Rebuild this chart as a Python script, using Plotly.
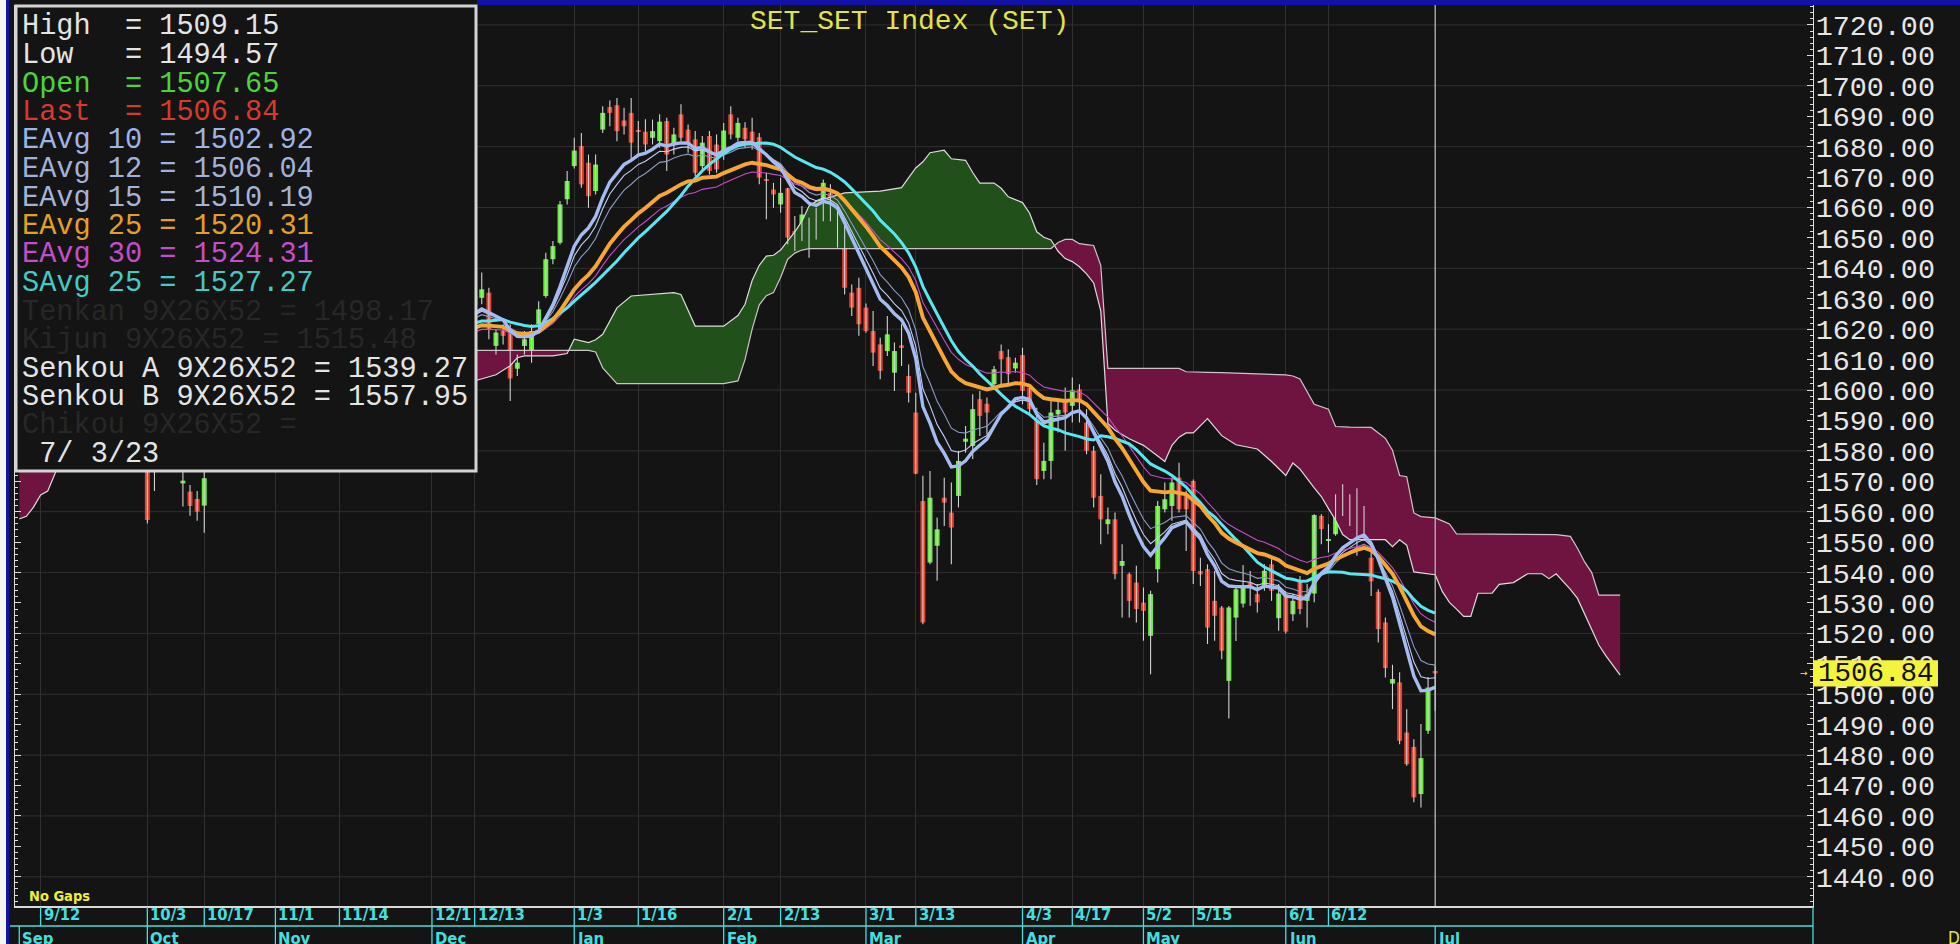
import numpy as np
import pandas as pd
import plotly.graph_objects as go

# ---------------- data ----------------
holidays = ["2022-10-13", "2022-10-14", "2022-10-24", "2022-12-05", "2022-12-12",
            "2023-01-02", "2023-03-06", "2023-04-06", "2023-04-13", "2023-04-14",
            "2023-05-01", "2023-05-04", "2023-05-05", "2023-06-05"]
first_day, last_day = "2022-09-07", "2023-07-03"

open_ = [1628, 1631, 1638, 1645, 1647, 1638, 1637, 1633, 1624, 1629,
         1633, 1622, 1616, 1605, 1598, 1600, 1595, 1598, 1586, 1575,
         1590, 1596, 1588, 1569.3, 1566.6, 1564.2, 1562.0, 1575, 1588, 1590,
         1582, 1590, 1596, 1603, 1600, 1608, 1611, 1615, 1605, 1601,
         1611, 1617, 1620, 1612, 1615, 1626, 1623, 1631, 1626, 1622,
         1617, 1612, 1619, 1626, 1622, 1616, 1612, 1624, 1637, 1630,
         1625, 1618, 1621, 1624, 1628, 1630.3, 1632.0, 1614.5, 1619.6, 1619.9,
         1607, 1614.5, 1611.2, 1621.6, 1630.9, 1643.0, 1648.4, 1662.7, 1673.6, 1680.2,
         1674.7, 1665.4, 1685.6, 1693.0, 1693.6, 1688.6, 1691.1, 1685.5, 1684.9, 1682.9,
         1681.8, 1688.4, 1680.7, 1690.6, 1685.6, 1682.4, 1673.6, 1683.5, 1680.7, 1677.4,
         1690.6, 1682.9, 1686.2, 1684.9, 1683.1, 1669.2, 1665.9, 1661.0, 1666.3, 1652.3,
         1653.6, 1654.4, 1653.9, 1658.3, 1664.8, 1657.7, 1651.4, 1632.0, 1633.6, 1627.1,
         1619.4, 1615.0, 1612.8, 1605.7, 1614.7, 1604.6, 1592.6, 1563.5, 1543.3, 1548.8,
         1564.6, 1559.7, 1565.2, 1583.0, 1581.6, 1597.0, 1595.5, 1601.9, 1612.8, 1610.8,
         1607.1, 1611.5, 1600.8, 1590.4, 1573.4, 1576.7, 1592.0, 1596.9, 1594.8, 1600.2,
         1589.3, 1580.0, 1565.2, 1555.9, 1557.5, 1542.2, 1539.5, 1536.7, 1530.1, 1519.2,
         1541.1, 1560.8, 1561.9, 1571.2, 1565.2, 1570.1, 1540.5, 1541.1, 1530.7, 1528.5,
         1504.4, 1525.2, 1529.8, 1536.7, 1532.9, 1535.1, 1542.7, 1525.0, 1532.9, 1526.3,
         1537.1, 1530.7, 1533.1, 1558.6, 1550.4, 1552.6, 1565.7, 1560.8, 1562.5, 1554.3,
         1544.9, 1533.7, 1523.6, 1503.5, 1503.9, 1487.4, 1482.7, 1467.2, 1488.0, 1507.65]

high = [1634, 1640, 1646, 1652, 1651, 1643, 1642, 1637, 1630, 1638,
        1637, 1628, 1622, 1610, 1608, 1605, 1603, 1602, 1588, 1592,
        1599, 1598, 1590, 1576, 1568.8, 1566.8, 1576, 1590, 1596, 1594,
        1590, 1598, 1605, 1608, 1610, 1614, 1618, 1620, 1610, 1612,
        1619, 1624, 1626, 1618, 1628, 1632, 1633, 1636, 1630, 1627,
        1620, 1620, 1628, 1631, 1628, 1620, 1625, 1638, 1642, 1634,
        1630, 1624, 1628, 1632, 1636, 1638.6, 1633.6, 1619.9, 1621.6, 1621.6,
        1611.7, 1619.4, 1621.6, 1629.2, 1645.1, 1649.0, 1662.1, 1672.0, 1682.9, 1684.5,
        1677.4, 1677.4, 1693.3, 1695.2, 1696.0, 1692.8, 1696.0, 1688.4, 1689.0, 1688.9,
        1690.6, 1689.5, 1686.2, 1693.9, 1687.3, 1685.1, 1683.5, 1685.1, 1684.0, 1687.8,
        1693.3, 1689.5, 1688.0, 1689.5, 1684.5, 1671.4, 1668.1, 1669.8, 1666.5, 1657.2,
        1660.5, 1656.6, 1659.9, 1669.2, 1667.6, 1658.8, 1654.4, 1634.7, 1636.9, 1628.4,
        1626.0, 1617.2, 1624.3, 1615.6, 1621.6, 1608.4, 1599.1, 1571.8, 1573.4, 1558.1,
        1571.2, 1569.6, 1580.0, 1588.2, 1598.6, 1599.7, 1597.5, 1607.9, 1615.0, 1613.4,
        1610.6, 1613.9, 1601.9, 1594.2, 1582.7, 1596.4, 1597.0, 1600.8, 1604.1, 1601.9,
        1593.7, 1581.6, 1572.3, 1561.4, 1559.7, 1549.3, 1540.0, 1542.2, 1535.1, 1534.0,
        1563.5, 1569.6, 1571.2, 1576.1, 1566.9, 1570.6, 1544.9, 1542.7, 1540.5, 1529.0,
        1529.0, 1535.6, 1542.5, 1540.5, 1536.2, 1542.7, 1544.4, 1536.2, 1533.8, 1532.9,
        1538.9, 1536.2, 1559.2, 1559.2, 1555.9, 1565.7, 1569.0, 1565.7, 1567.7, 1561.9,
        1550.4, 1534.5, 1525.2, 1509.7, 1507.2, 1495.1, 1485.2, 1490.2, 1505.7, 1509.15]

low = [1622, 1628, 1635, 1641, 1640, 1632, 1630, 1624, 1618, 1625,
       1622, 1612, 1606, 1592, 1594, 1588, 1590, 1584, 1556.1, 1566.8,
       1584, 1582, 1576, 1561.7, 1558.7, 1557.0, 1553.1, 1574, 1584, 1580,
       1576, 1585, 1592, 1596, 1597, 1602, 1606, 1604, 1596, 1598,
       1608, 1612, 1612, 1604, 1613, 1620, 1620, 1624, 1618, 1615,
       1608, 1606, 1615, 1620, 1616, 1605, 1609, 1620, 1628, 1620,
       1616, 1612, 1617, 1620, 1625, 1628.2, 1616.7, 1611.7, 1615.0, 1596.4,
       1604.6, 1611.7, 1609.0, 1619.4, 1630.3, 1641.3, 1647.8, 1661.0, 1672.8, 1666.5,
       1659.9, 1664.3, 1684.5, 1686.7, 1681.8, 1684.0, 1675.2, 1677.4, 1678.5, 1680.7,
       1679.6, 1672.0, 1677.4, 1681.8, 1678.0, 1670.3, 1671.9, 1670.8, 1671.4, 1675.7,
       1682.4, 1681.8, 1679.6, 1679.0, 1667.6, 1656.1, 1659.9, 1658.3, 1647.9, 1645.7,
       1649.0, 1643.5, 1649.5, 1655.5, 1655.5, 1646.8, 1631.4, 1624.3, 1617.8, 1618.8,
       1607.9, 1603.5, 1611.2, 1599.7, 1607.9, 1595.9, 1572.3, 1523.0, 1542.7, 1537.3,
       1555.3, 1542.7, 1561.4, 1579.4, 1577.3, 1584.9, 1585.4, 1600.2, 1601.9, 1601.9,
       1605.7, 1595.3, 1592.0, 1568.8, 1570.7, 1570.7, 1586.0, 1580.0, 1589.3, 1589.3,
       1578.9, 1561.4, 1549.3, 1552.6, 1537.8, 1525.2, 1525.2, 1523.6, 1517.6, 1506.6,
       1536.7, 1559.7, 1557.0, 1559.7, 1547.1, 1536.2, 1535.6, 1516.5, 1517.6, 1511.5,
       1492.0, 1517.5, 1528.5, 1529.1, 1526.9, 1534.0, 1530.7, 1520.9, 1520.0, 1524.1,
       1526.3, 1521.9, 1530.2, 1549.3, 1546.6, 1552.1, 1558.6, 1555.3, 1545.5, 1550.4,
       1532.3, 1517.0, 1505.5, 1495.1, 1483.6, 1476.5, 1464.5, 1462.8, 1486.9, 1494.57]

close = [1630, 1637, 1643, 1648, 1644, 1636, 1634, 1627, 1628, 1635,
         1625, 1615, 1612, 1596, 1604, 1592, 1600, 1589, 1557.3, 1590,
         1595, 1590, 1584, 1570.2, 1561.9, 1560.0, 1571.0, 1588, 1591, 1583,
         1586, 1595, 1602, 1600, 1607, 1610, 1615, 1607, 1600, 1609,
         1616, 1620, 1615, 1610, 1625, 1623, 1630, 1627, 1621, 1619,
         1612, 1617, 1625, 1623, 1620, 1610, 1622, 1635, 1632, 1624,
         1619, 1620, 1625, 1629, 1631, 1633.1, 1619.9, 1618.9, 1617.8, 1603.8,
         1609, 1616.7, 1619.4, 1626.5, 1643.0, 1647.3, 1661.0, 1668.7, 1678.7, 1667.6,
         1663.7, 1674.1, 1691.1, 1691.1, 1685.1, 1686.7, 1681.3, 1685.0, 1680.7, 1685.1,
         1688.2, 1677.4, 1684.0, 1682.9, 1680.7, 1671.4, 1681.3, 1672.0, 1672.5, 1685.3,
         1684.0, 1687.8, 1682.4, 1681.3, 1669.8, 1668.7, 1664.3, 1664.8, 1650.1, 1646.8,
         1657.7, 1651.4, 1657.4, 1668.1, 1658.8, 1652.3, 1633.6, 1627.1, 1621.6, 1619.4,
         1612.3, 1606.3, 1618.3, 1612.8, 1614.1, 1599.1, 1572.5, 1523.6, 1564.6, 1554.2,
         1563.0, 1554.8, 1576.7, 1584.0, 1593.7, 1591.5, 1592.6, 1606.8, 1610.1, 1605.2,
         1609.0, 1599.7, 1593.7, 1570.7, 1576.7, 1592.6, 1593.5, 1592.6, 1599.9, 1595.9,
         1580.0, 1564.6, 1557.5, 1557.5, 1539.5, 1543.8, 1530.7, 1528.0, 1527.4, 1532.9,
         1561.9, 1564.1, 1569.6, 1560.8, 1560.8, 1540.5, 1539.4, 1521.9, 1525.8, 1514.3,
         1528.5, 1534.5, 1535.6, 1535.1, 1530.2, 1540.6, 1534.0, 1533.1, 1520.6, 1530.7,
         1528.0, 1532.9, 1558.9, 1554.3, 1550.9, 1561.9, 1560.3, 1557.0, 1558.6, 1556.7,
         1537.1, 1521.4, 1508.6, 1505.0, 1484.7, 1477.0, 1466.1, 1479.0, 1502.2, 1506.84]

# Ichimoku cloud: bar number counted from the first bar (2022-09-07);
# numbers above 199 are the 26-bar forward projection.
cloud_session = [0, 1, 2, 3, 4, 5, 7, 13, 23, 33, 43, 53, 61, 64, 67, 69, 70, 71, 75, 77,
                 78, 80, 81, 82, 84, 86, 92, 93, 95, 99, 101, 102, 103, 104, 105, 106, 107, 108, 109, 110,
                 111, 112, 116, 121, 124, 125, 126, 127, 128, 130, 131, 133, 134, 135, 137, 138, 139, 141, 142, 143,
                 144, 145, 146, 147, 148, 149, 150, 151, 152, 153, 154, 156, 158, 160, 161, 162, 163, 164, 165, 167,
                 169, 171, 174, 176, 178, 179, 180, 182, 183, 184, 185, 186, 187, 190, 192, 193, 194, 195, 196, 197,
                 199, 200, 201, 202, 203, 204, 205, 207, 208, 210, 212, 214, 215, 216, 218, 219, 220, 221, 222, 223,
                 224, 225]
senkou_a = [1557.6, 1558.5, 1561.5, 1565.5, 1566.8, 1572.4, 1585, 1598, 1606, 1600, 1596, 1598, 1601, 1603, 1605, 1608, 1610.6, 1611.2, 1611.2, 1612.0,
            1616.7, 1615.6, 1616.5, 1618.3, 1627, 1630.9, 1632, 1631.4, 1621, 1621, 1624.5, 1628.2, 1636, 1641, 1644, 1644.3, 1646, 1649, 1652, 1655.5,
            1660.5, 1662, 1664.8, 1665.4, 1666.5, 1669.8, 1673, 1675, 1678, 1678.8, 1676, 1675.5, 1671.5, 1668, 1668, 1666.3, 1663.5, 1661.6, 1658.1, 1652,
            1650.2, 1649.3, 1645.6, 1643.2, 1642.2, 1640.5, 1638.2, 1635.2, 1626, 1589, 1586.8, 1584, 1581.8, 1578.3, 1576.5, 1581.8, 1584.5, 1585.9, 1585.9, 1590.6,
            1585, 1582, 1580.6, 1576.5, 1571.9, 1576, 1574, 1567.8, 1565, 1561, 1557.2, 1552.5, 1550.8, 1550.8, 1550.8, 1548.5, 1550.8, 1549, 1540.2, 1539.9,
            1539.27, 1533.8, 1530.2, 1528, 1525.6, 1525.6, 1533.2, 1533.2, 1536.1, 1536.7, 1539.6, 1539.6, 1538, 1539.6, 1534.5, 1531.5, 1526.5, 1521, 1516.2, 1512.6,
            1509.5, 1506.3]
senkou_b = [1645, 1645, 1644, 1644, 1643, 1642, 1642, 1640, 1636, 1628, 1620, 1614, 1613, 1613, 1613, 1613, 1613, 1613, 1613, 1613,
            1613, 1613, 1612.5, 1607.3, 1602.1, 1602.1, 1602.1, 1602.1, 1602.1, 1602.1, 1603, 1610, 1620, 1628, 1631, 1632, 1637, 1643, 1645, 1646,
            1646.5, 1646.5, 1646.5, 1646.5, 1646.5, 1646.5, 1646.5, 1646.5, 1646.5, 1646.5, 1646.5, 1646.5, 1646.5, 1646.5, 1646.5, 1646.5, 1646.5, 1646.5, 1646.5, 1646.5,
            1646.5, 1646.5, 1648.5, 1649.5, 1649.5, 1648.1, 1647.8, 1647.5, 1641, 1607.1, 1607.1, 1607.1, 1607.1, 1607.1, 1607.1, 1607.1, 1607.1, 1606, 1606, 1605.8,
            1605.7, 1605.6, 1605.3, 1605.2, 1605, 1604.6, 1603.6, 1595.3, 1594.5, 1593.7, 1588, 1588, 1587.8, 1587.7, 1584.1, 1580.2, 1571.9, 1571.5, 1559.6, 1558.4,
            1557.95, 1557, 1556, 1552.7, 1552.7, 1552.7, 1552.7, 1552.7, 1552.7, 1552.7, 1552.7, 1552.7, 1552.7, 1552.5, 1551.9, 1548, 1543.5, 1540, 1532.6, 1532.6,
            1532.6, 1532.6]

day_labels = ["9/12", "10/3", "10/17", "11/1", "11/14", "12/1", "12/13", "1/3", "1/16", "2/1",
              "2/13", "3/1", "3/13", "4/3", "4/17", "5/2", "5/15", "6/1", "6/12"]
day_label_dates = ["2022-09-12", "2022-10-03", "2022-10-17", "2022-11-01", "2022-11-14", "2022-12-01",
                   "2022-12-13", "2023-01-03", "2023-01-16", "2023-02-01", "2023-02-13", "2023-03-01",
                   "2023-03-13", "2023-04-03", "2023-04-17", "2023-05-02", "2023-05-15", "2023-06-01",
                   "2023-06-12"]
month_labels = ["Sep", "Oct", "Nov", "Dec", "Jan", "Feb", "Mar", "Apr", "May", "Jun", "Jul"]
month_dates = ["2022-09-07", "2022-10-03", "2022-11-01", "2022-12-01", "2023-01-03", "2023-02-01",
               "2023-03-01", "2023-04-03", "2023-05-02", "2023-06-01", "2023-07-03"]

readout = [("High\u00a0\u00a0=\u00a01509.15", "#e4e4e4"),
           ("Low\u00a0\u00a0\u00a0=\u00a01494.57", "#e4e4e4"),
           ("Open\u00a0\u00a0=\u00a01507.65", "#4fd23a"),
           ("Last\u00a0\u00a0=\u00a01506.84", "#d63a2c"),
           ("EAvg\u00a010\u00a0=\u00a01502.92", "#9fb3e6"),
           ("EAvg\u00a012\u00a0=\u00a01506.04", "#a3b1d9"),
           ("EAvg\u00a015\u00a0=\u00a01510.19", "#a6b3d6"),
           ("EAvg\u00a025\u00a0=\u00a01520.31", "#e2a02a"),
           ("EAvg\u00a030\u00a0=\u00a01524.31", "#c24fc9"),
           ("SAvg\u00a025\u00a0=\u00a01527.27", "#45c9c4"),
           ("Tenkan\u00a09X26X52\u00a0=\u00a01498.17", "#272727"),
           ("Kijun\u00a09X26X52\u00a0=\u00a01515.48", "#272727"),
           ("Senkou\u00a0A\u00a09X26X52\u00a0=\u00a01539.27", "#e4e4e4"),
           ("Senkou\u00a0B\u00a09X26X52\u00a0=\u00a01557.95", "#e4e4e4"),
           ("Chikou\u00a09X26X52\u00a0=", "#272727"),
           ("\u00a07/\u00a03/23", "#e4e4e4")]
last_price = 1506.84

# ---------------- derived ----------------
cal = pd.bdate_range(first_day, last_day)
cal = cal[~cal.isin(pd.to_datetime(holidays))]
dates = [d.strftime("%Y-%m-%d") for d in cal]
n = len(dates)
x = np.arange(n)
o, h, l, c = map(np.array, (open_, high, low, close))
sess = {d: i for i, d in enumerate(dates)}

cs = pd.Series(c)
ema = {k: cs.ewm(span=k, adjust=False).mean() for k in (10, 12, 15, 25, 30)}
sma25 = cs.rolling(25).mean()

# ---------------- geometry ----------------
W, H = 1960, 944
L, R, T, B = 15, 147, 5, 38
PW, PH = W - L - R, H - T - B


def px_x(px):
    return (px - L) / PW


def px_y(py):
    return (H - B - py) / PH


BG = "#141414"
CYAN = "#45dede"
fig = go.Figure()

# ---- cloud ----
def cloud_segments(xs, a, b):
    segs = []
    cur = dict(x=[xs[0]], a=[a[0]], b=[b[0]], bull=a[0] >= b[0])
    for i in range(1, len(xs)):
        d0, d1 = a[i - 1] - b[i - 1], a[i] - b[i]
        if (d0 >= 0) != (d1 >= 0):
            t = d0 / (d0 - d1)
            xc = xs[i - 1] + t * (xs[i] - xs[i - 1])
            yc = a[i - 1] + t * (a[i] - a[i - 1])
            cur["x"].append(xc); cur["a"].append(yc); cur["b"].append(yc)
            segs.append(cur)
            cur = dict(x=[xc], a=[yc], b=[yc], bull=d1 >= 0)
        cur["x"].append(xs[i]); cur["a"].append(a[i]); cur["b"].append(b[i])
    segs.append(cur)
    return segs


for seg in cloud_segments(cloud_session, senkou_a, senkou_b):
    fig.add_trace(go.Scatter(
        x=seg["x"] + seg["x"][::-1], y=seg["a"] + seg["b"][::-1],
        fill="toself", mode="lines", line=dict(width=0),
        fillcolor="#21501a" if seg["bull"] else "#6f1440", hoverinfo="skip"))

for ys, col in ((senkou_a, "#dcdcdc"), (senkou_b, "#cfc3c8")):
    fig.add_trace(go.Scatter(x=cloud_session, y=ys, mode="lines",
                             line=dict(color=col, width=1.2), hoverinfo="skip"))

# ---- candles ----
wx, wy = [], []
for xi, lo, hi in zip(x, l, h):
    wx += [xi, xi, None]
    wy += [lo, hi, None]
fig.add_trace(go.Scatter(x=wx, y=wy, mode="lines", line=dict(color="#d2d2d2", width=1.1),
                         hoverinfo="skip"))
up = c >= o
for mask, col in ((up, "#66ee3a"), (~up, "#e8402c")):
    fig.add_trace(go.Bar(x=x[mask], y=np.abs(c - o)[mask], base=np.minimum(o, c)[mask],
                         width=0.7, marker=dict(color=col, line=dict(width=0)),
                         hoverinfo="skip"))

# ---- averages ----
for series, col, wd in ((ema[15], "#8a9cc4", 1.1), (ema[12], "#c0cff5", 1.1),
                        (ema[30], "#c94ccb", 1.1), (sma25, "#5ae6f0", 3.0),
                        (ema[25], "#f6a634", 3.9), (ema[10], "#a4bcf2", 3.4)):
    fig.add_trace(go.Scatter(x=x, y=series, mode="lines",
                             line=dict(color=col, width=wd), hoverinfo="skip"))

# ---------------- shapes ----------------
shapes = []
for v in range(1440, 1721, 20):
    shapes.append(dict(type="line", xref="paper", yref="y", x0=0, x1=1, y0=v, y1=v,
                       line=dict(color="#303030", width=1), layer="below"))
last_x = sess[last_day]
shapes.append(dict(type="line", xref="x", yref="paper", x0=last_x, x1=last_x, y0=0, y1=1,
                   line=dict(color="#c4c4c4", width=1.2)))
# bottom date strip
day_x = [sess[d] for d in day_label_dates]
month_x = [sess[d] for d in month_dates]
for dx in day_x:
    shapes.append(dict(type="line", xref="x", yref="paper", x0=dx, x1=dx,
                       y0=px_y(907), y1=px_y(926), line=dict(color=CYAN, width=1.3)))
shapes.append(dict(type="line", xref="paper", yref="paper", x0=px_x(10), x1=1,
                   y0=px_y(926), y1=px_y(926), line=dict(color=CYAN, width=1.3)))
for mx in month_x:
    shapes.append(dict(type="line", xref="x", yref="paper", x0=mx, x1=mx,
                       y0=px_y(926), y1=px_y(946), line=dict(color=CYAN, width=1.3)))
shapes.append(dict(type="line", xref="paper", yref="paper", x0=1, x1=1,
                   y0=px_y(907), y1=px_y(946), line=dict(color=CYAN, width=1.3)))
# window frame
shapes.append(dict(type="rect", xref="paper", yref="paper", x0=px_x(0), x1=px_x(6),
                   y0=px_y(946), y1=px_y(-2), fillcolor="#f4f4f4", line=dict(width=0)))
shapes.append(dict(type="rect", xref="paper", yref="paper", x0=px_x(6), x1=px_x(9),
                   y0=px_y(946), y1=px_y(-2), fillcolor="#1212a6", line=dict(width=0)))
shapes.append(dict(type="rect", xref="paper", yref="paper", x0=px_x(477), x1=px_x(1962),
                   y0=px_y(5), y1=px_y(-2), fillcolor="#1212a6", line=dict(width=0)))
# readout box
shapes.append(dict(type="rect", xref="paper", yref="paper", x0=px_x(16), x1=px_x(476),
                   y0=px_y(471), y1=px_y(6), fillcolor=BG,
                   line=dict(color="#d4d4d4", width=3), layer="above"))
# last price tag
shapes.append(dict(type="rect", xref="paper", yref="y", x0=1.0005, x1=px_x(1938),
                   y0=last_price - 4.3, y1=last_price + 4.3, fillcolor="#f4f43c",
                   line=dict(width=0), layer="above"))

# ---------------- annotations ----------------
ann = []
MONO = "Liberation Mono, Courier New, monospace"
NARROW = "Liberation Sans Narrow, Arial Narrow, DejaVu Sans Condensed, sans-serif"
ann.append(dict(text="SET_SET Index (SET)", xref="paper", yref="paper", x=px_x(909), y=px_y(22),
                xanchor="center", yanchor="middle", showarrow=False,
                font=dict(family=MONO, size=28, color="#e2e24a")))
for i, (txt, col) in enumerate(readout):
    ann.append(dict(text=txt, xref="paper", yref="paper", x=px_x(20), y=px_y(27 + 28.5 * i),
                    xanchor="left", yanchor="middle", showarrow=False,
                    font=dict(family=MONO, size=28.6, color=col)))
ann.append(dict(text=f"{last_price:.2f}", xref="paper", yref="y", x=px_x(1816), y=last_price,
                xanchor="left", yanchor="middle", showarrow=False,
                font=dict(family=MONO, size=27.5, color="#111111")))
ann.append(dict(text="\u2192", xref="paper", yref="y", x=px_x(1804), y=last_price,
                xanchor="center", yanchor="middle", showarrow=False,
                font=dict(family="DejaVu Sans", size=9, color="#f0f040")))
ann.append(dict(text="<b>No Gaps</b>", xref="paper", yref="paper", x=px_x(27), y=px_y(896),
                xanchor="left", yanchor="middle", showarrow=False,
                font=dict(family=NARROW, size=14.5, color="#f0f030")))
for lab, dx in zip(day_labels, day_x):
    ann.append(dict(text=f"<b>{lab}</b>", xref="x", yref="paper", x=dx, y=px_y(915), xshift=1,
                    xanchor="left", yanchor="middle", showarrow=False,
                    font=dict(family=NARROW, size=16.5, color=CYAN)))
for lab, mx in zip(month_labels, month_x):
    ann.append(dict(text=f"<b>{lab}</b>", xref="x", yref="paper", x=mx, y=px_y(926.5), xshift=1,
                    xanchor="left", yanchor="top", showarrow=False, bgcolor=BG, borderpad=1,
                    font=dict(family=NARROW, size=16.5, color=CYAN)))
ann.append(dict(text="D", xref="paper", yref="paper", x=px_x(1946), y=px_y(926),
                xanchor="left", yanchor="top", showarrow=False,
                font=dict(family=NARROW, size=17, color="#e8e830")))

fig.update_layout(
    width=W, height=H, autosize=False,
    margin=dict(l=L, r=R, t=T, b=B, pad=0),
    paper_bgcolor=BG, plot_bgcolor=BG,
    showlegend=False, barmode="overlay", hovermode=False,
    shapes=shapes, annotations=ann,
    xaxis=dict(range=[-0.6, 252.1], tickvals=day_x, showticklabels=False, ticks="",
               showgrid=True, gridcolor="#303030", gridwidth=1, zeroline=False,
               showline=True, linecolor="#dadada", linewidth=2),
    yaxis=dict(side="right", range=[1430.4, 1726.55], dtick=10, tick0=0, tickformat=".2f",
               showgrid=False, zeroline=False, ticks="inside", ticklen=6, tickcolor="#dddddd",
               minor=dict(dtick=2, ticks="inside", ticklen=3, tickcolor="#dddddd", showgrid=False),
               showline=True, linecolor="#dddddd", linewidth=1, mirror="ticks",
               ticklabelstandoff=-4,
               tickfont=dict(family=MONO, size=28.4, color="#e6e6e6")),
)

fig.write_html("out.html", config={"displayModeBar": False},
               post_script="document.body.style.margin='0';document.body.style.overflow='hidden';")
